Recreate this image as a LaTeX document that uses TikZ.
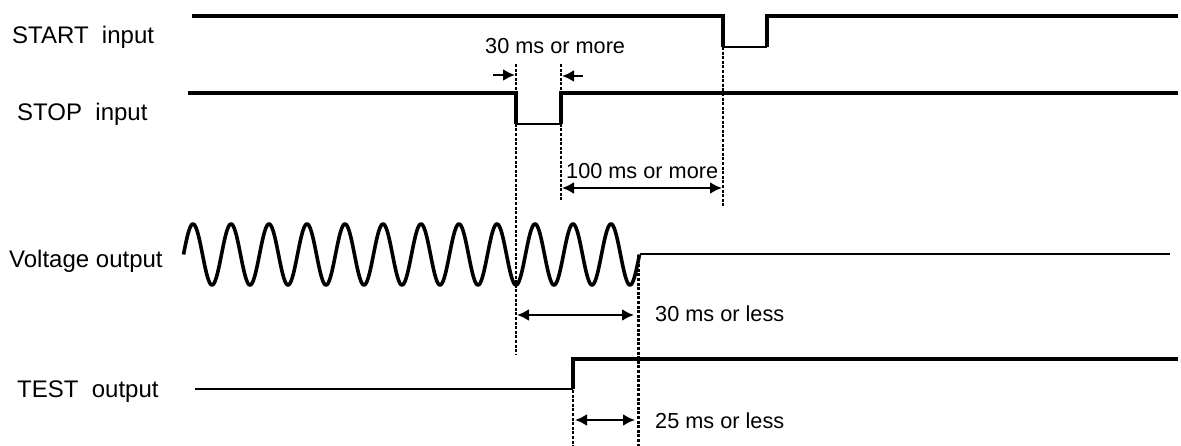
\documentclass[tikz,border=0pt]{standalone}
\usepackage{fontspec}
\setmainfont{Liberation Sans}
\usetikzlibrary{arrows.meta}
\tikzset{
  sig/.style={line width=3.6pt},
  sigthin/.style={line width=2.5pt},
  guide/.style={line width=2.2pt, dash pattern=on 3pt off 1.6pt},
  dim/.style={line width=2.8pt, {Latex[length=12pt,width=12pt]}-{Latex[length=12pt,width=12pt]}},
  dimr/.style={line width=2.8pt, -{Latex[length=12pt,width=12pt]}},
  lab/.style={anchor=base west, inner sep=0pt, font=\fontsize{24}{26}\selectfont},
  ann/.style={anchor=base west, inner sep=0pt, font=\fontsize{21.7}{24}\selectfont},
}
\begin{document}
\begin{tikzpicture}[x=1pt,y=-1pt]
\useasboundingbox (0,0) rectangle (1181,446);
% labels
\node[lab] (lstart) at (12,44) {START\ \ input};
\node[lab] (lstop) at (17,121) {STOP\ \ input};
\node[lab] (lvolt) at (9,268) {Voltage output};
\node[lab] (ltest) at (17,397) {TEST\ \ output};
% START signal
\coordinate (s0) at (192,16);
\coordinate (s1) at (723,16);
\coordinate (s2) at (723,47);
\coordinate (s3) at (767,47);
\coordinate (s4) at (767,16);
\coordinate (s5) at (1178,16);
\draw[sig] (s0) -- (s1) -- (s2);
\draw[sigthin] (s2) -- (s3);
\draw[sig] (s3) -- (s4) -- (s5);
% STOP signal
\coordinate (p0) at (188,93);
\coordinate (p1) at (516,93);
\coordinate (p2) at (516,124);
\coordinate (p3) at (561,124);
\coordinate (p4) at (561,93);
\coordinate (p5) at (1178,93);
\draw[sig] (p0) -- (p1) -- (p2);
\draw[sigthin] (p2) -- (p3);
\draw[sig] (p3) -- (p4) -- (p5);
% Voltage output
\draw[sig, line join=round] plot[domain=0:456, samples=600, smooth] ({\x+183.5}, {254.5 - 30.5*sin(\x*9.473684)});
\coordinate (v0) at (639.5,254);
\coordinate (v1) at (1170,254);
\draw[sigthin] (v0) -- (v1);
% TEST output
\coordinate (t0) at (195,389);
\coordinate (t1) at (573,389);
\coordinate (t2) at (573,359);
\coordinate (t3) at (1178,359);
\draw[sigthin] (t0) -- (t1);
\draw[sig] (t1) -- (t2) -- (t3);
% guides
\coordinate (g1a) at (516,64);  \coordinate (g1b) at (516,355);
\coordinate (g2a) at (561,64);  \coordinate (g2b) at (561,200);
\coordinate (g3a) at (723,47);  \coordinate (g3b) at (723,207);
\coordinate (g4a) at (638.5,255); \coordinate (g4b) at (638.5,446);
\coordinate (g5a) at (573,390); \coordinate (g5b) at (573,446);
\draw[guide] (g1a) -- (g1b);
\draw[guide] (g2a) -- (g2b);
\draw[guide] (g3a) -- (g3b);
\draw[guide] (g4a) -- (g4b);
\draw[guide] (g5a) -- (g5b);
% 30 ms or more
\node[ann] (a1) at (485,54) {30 ms or more};
\coordinate (a1l) at (493,75); \coordinate (a1le) at (515,75);
\coordinate (a1r) at (583,76); \coordinate (a1re) at (562,76);
\draw[dimr] (a1l) -- (a1le);
\draw[dimr] (a1r) -- (a1re);
% 100 ms or more
\node[ann] (a2) at (566,179) {100 ms or more};
\coordinate (a2l) at (562,188); \coordinate (a2r) at (722,188);
\draw[dim] (a2l) -- (a2r);
% 30 ms or less
\node[ann] (a3) at (655,322) {30 ms or less};
\coordinate (a3l) at (517,315); \coordinate (a3r) at (634,315);
\draw[dim] (a3l) -- (a3r);
% 25 ms or less
\node[ann] (a4) at (655,428) {25 ms or less};
\coordinate (a4l) at (575,420); \coordinate (a4r) at (635,420);
\draw[dim] (a4l) -- (a4r);
\end{tikzpicture}
\end{document}
